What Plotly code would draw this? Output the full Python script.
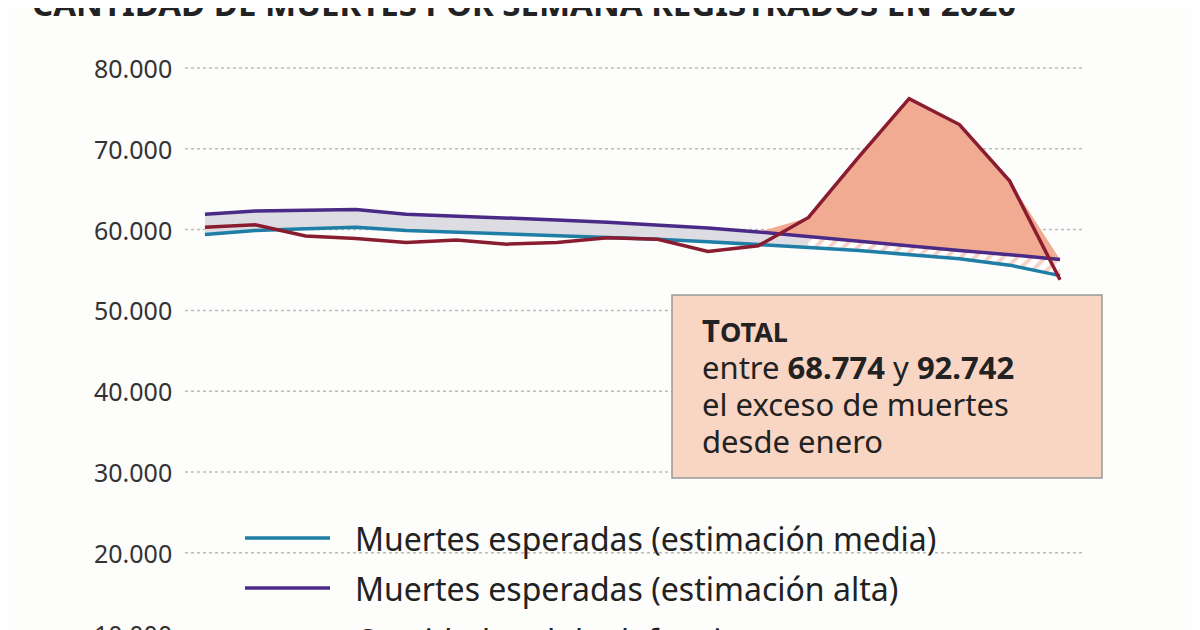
import plotly.graph_objects as go

# weekly deaths 2020
weeks = list(range(18))
real = [60300, 60600, 59200, 58900, 58400, 58700, 58200, 58400, 59000, 58800,
        57300, 58000, 61500, 69000, 76200, 73000, 66000, 53800]
mean = [59400, 59900, 60100, 60300, 59900, 59700, 59500, 59300, 59000, 58800,
        58500, 58200, 57800, 57400, 56900, 56400, 55600, 54300]
high = [61900, 62300, 62400, 62500, 61900, 61700, 61500, 61200, 60900, 60600,
        60200, 59700, 59100, 58600, 58000, 57400, 56900, 56300]
top = [max(r, h) for r, h in zip(real, high)]

BLUE, PURPLE, RED = '#1f7ea6', '#4a2a86', '#8a1c30'
W, H = 1200, 630
OFF = 8  # page margin of the browser body

def px(x):
    return (x - OFF) / W

def py(y):
    return 1 - (y - OFF) / H

fig = go.Figure()
# gray band between estimates
fig.add_trace(go.Scatter(x=weeks[:13], y=mean[:13], mode='lines', line=dict(width=0), showlegend=False))
fig.add_trace(go.Scatter(x=weeks[:13], y=high[:13], mode='lines', line=dict(width=0), fill='tonexty',
                         fillcolor='#dcdce2', showlegend=False))
# hatched band where excess
fig.add_trace(go.Scatter(x=weeks[12:], y=mean[12:], mode='lines', line=dict(width=0), showlegend=False))
fig.add_trace(go.Scatter(x=weeks[12:], y=high[12:], mode='lines', line=dict(width=0), fill='tonexty',
                         fillcolor='white', fillpattern=dict(shape='/', fgcolor='#eba58f', bgcolor='white',
                                                             size=10, solidity=0.4), showlegend=False))
# excess above high estimate
fig.add_trace(go.Scatter(x=weeks[11:], y=high[11:], mode='lines', line=dict(width=0), showlegend=False))
fig.add_trace(go.Scatter(x=weeks[11:], y=top[11:], mode='lines', line=dict(width=0), fill='tonexty',
                         fillcolor='#f1ab93', showlegend=False))
fig.add_trace(go.Scatter(x=weeks, y=mean, mode='lines', line=dict(color=BLUE, width=3.5), showlegend=False))
fig.add_trace(go.Scatter(x=weeks, y=high, mode='lines', line=dict(color=PURPLE, width=3.5), showlegend=False))
fig.add_trace(go.Scatter(x=weeks, y=real, mode='lines', line=dict(color=RED, width=3.5), showlegend=False))

font = 'Noto Sans'
for v in range(10000, 90000, 10000):
    fig.add_shape(type='line', xref='paper', yref='y', x0=px(185), x1=px(1085), y0=v, y1=v,
                  line=dict(color='#bbbbbb', width=1.5, dash='dot'), layer='below')
    fig.add_annotation(xref='paper', yref='y', x=px(174), y=v, xanchor='right', showarrow=False,
                       text=f'{v:,}'.replace(',', '.'), font=dict(family=font, size=25, color='#333'))

fig.add_annotation(xref='paper', yref='paper', x=px(30), y=py(28), xanchor='left', yanchor='bottom',
                   showarrow=False, text='<b>CANTIDAD DE MUERTES POR SEMANA REGISTRADOS EN 2020</b>',
                   font=dict(family=font, size=33, color='#222'))

# total box
fig.add_shape(type='rect', xref='paper', yref='paper', x0=px(672), x1=px(1102), y0=py(478), y1=py(295),
              fillcolor='#f9d5c4', line=dict(color='#999', width=1.5))
box_lines = ['<b>T<span style="font-size:27px">OTAL</span></b>',
             'entre <b>68.774</b> y <b>92.742</b>',
             'el exceso de muertes', 'desde enero']
for i, t in enumerate(box_lines):
    fig.add_annotation(xref='paper', yref='paper', x=px(700), y=py(330 + 37 * i), xanchor='left',
                       yanchor='middle', showarrow=False, text=t, font=dict(family=font, size=31, color='#222'))

# legend drawn by hand
legend = [(BLUE, 'Muertes esperadas (estimación media)', 538),
          (PURPLE, 'Muertes esperadas (estimación alta)', 588),
          (RED, 'Cantidad real de defunciones', 640)]
for color, label, yp in legend:
    fig.add_shape(type='line', xref='paper', yref='paper', x0=px(245), x1=px(330), y0=py(yp), y1=py(yp),
                  line=dict(color=color, width=3.5))
    fig.add_annotation(xref='paper', yref='paper', x=px(353), y=py(yp), xanchor='left', yanchor='middle',
                       showarrow=False, text=label, font=dict(family=font, size=32, color='#222'))

fig.update_layout(width=W, height=H, margin=dict(l=0, r=0, t=0, b=0), plot_bgcolor='#fdfdfc',
                  paper_bgcolor='#fdfdfc',
                  xaxis=dict(range=[-(205 - OFF) / 50.3, 17 + (W + OFF - 1060) / 50.3], visible=False),
                  yaxis=dict(range=[80000 - (H + OFF - 68) * 1000 / 8.08, 80000 + (68 - OFF) * 1000 / 8.08],
                             visible=False))
fig.write_html("out.html")
